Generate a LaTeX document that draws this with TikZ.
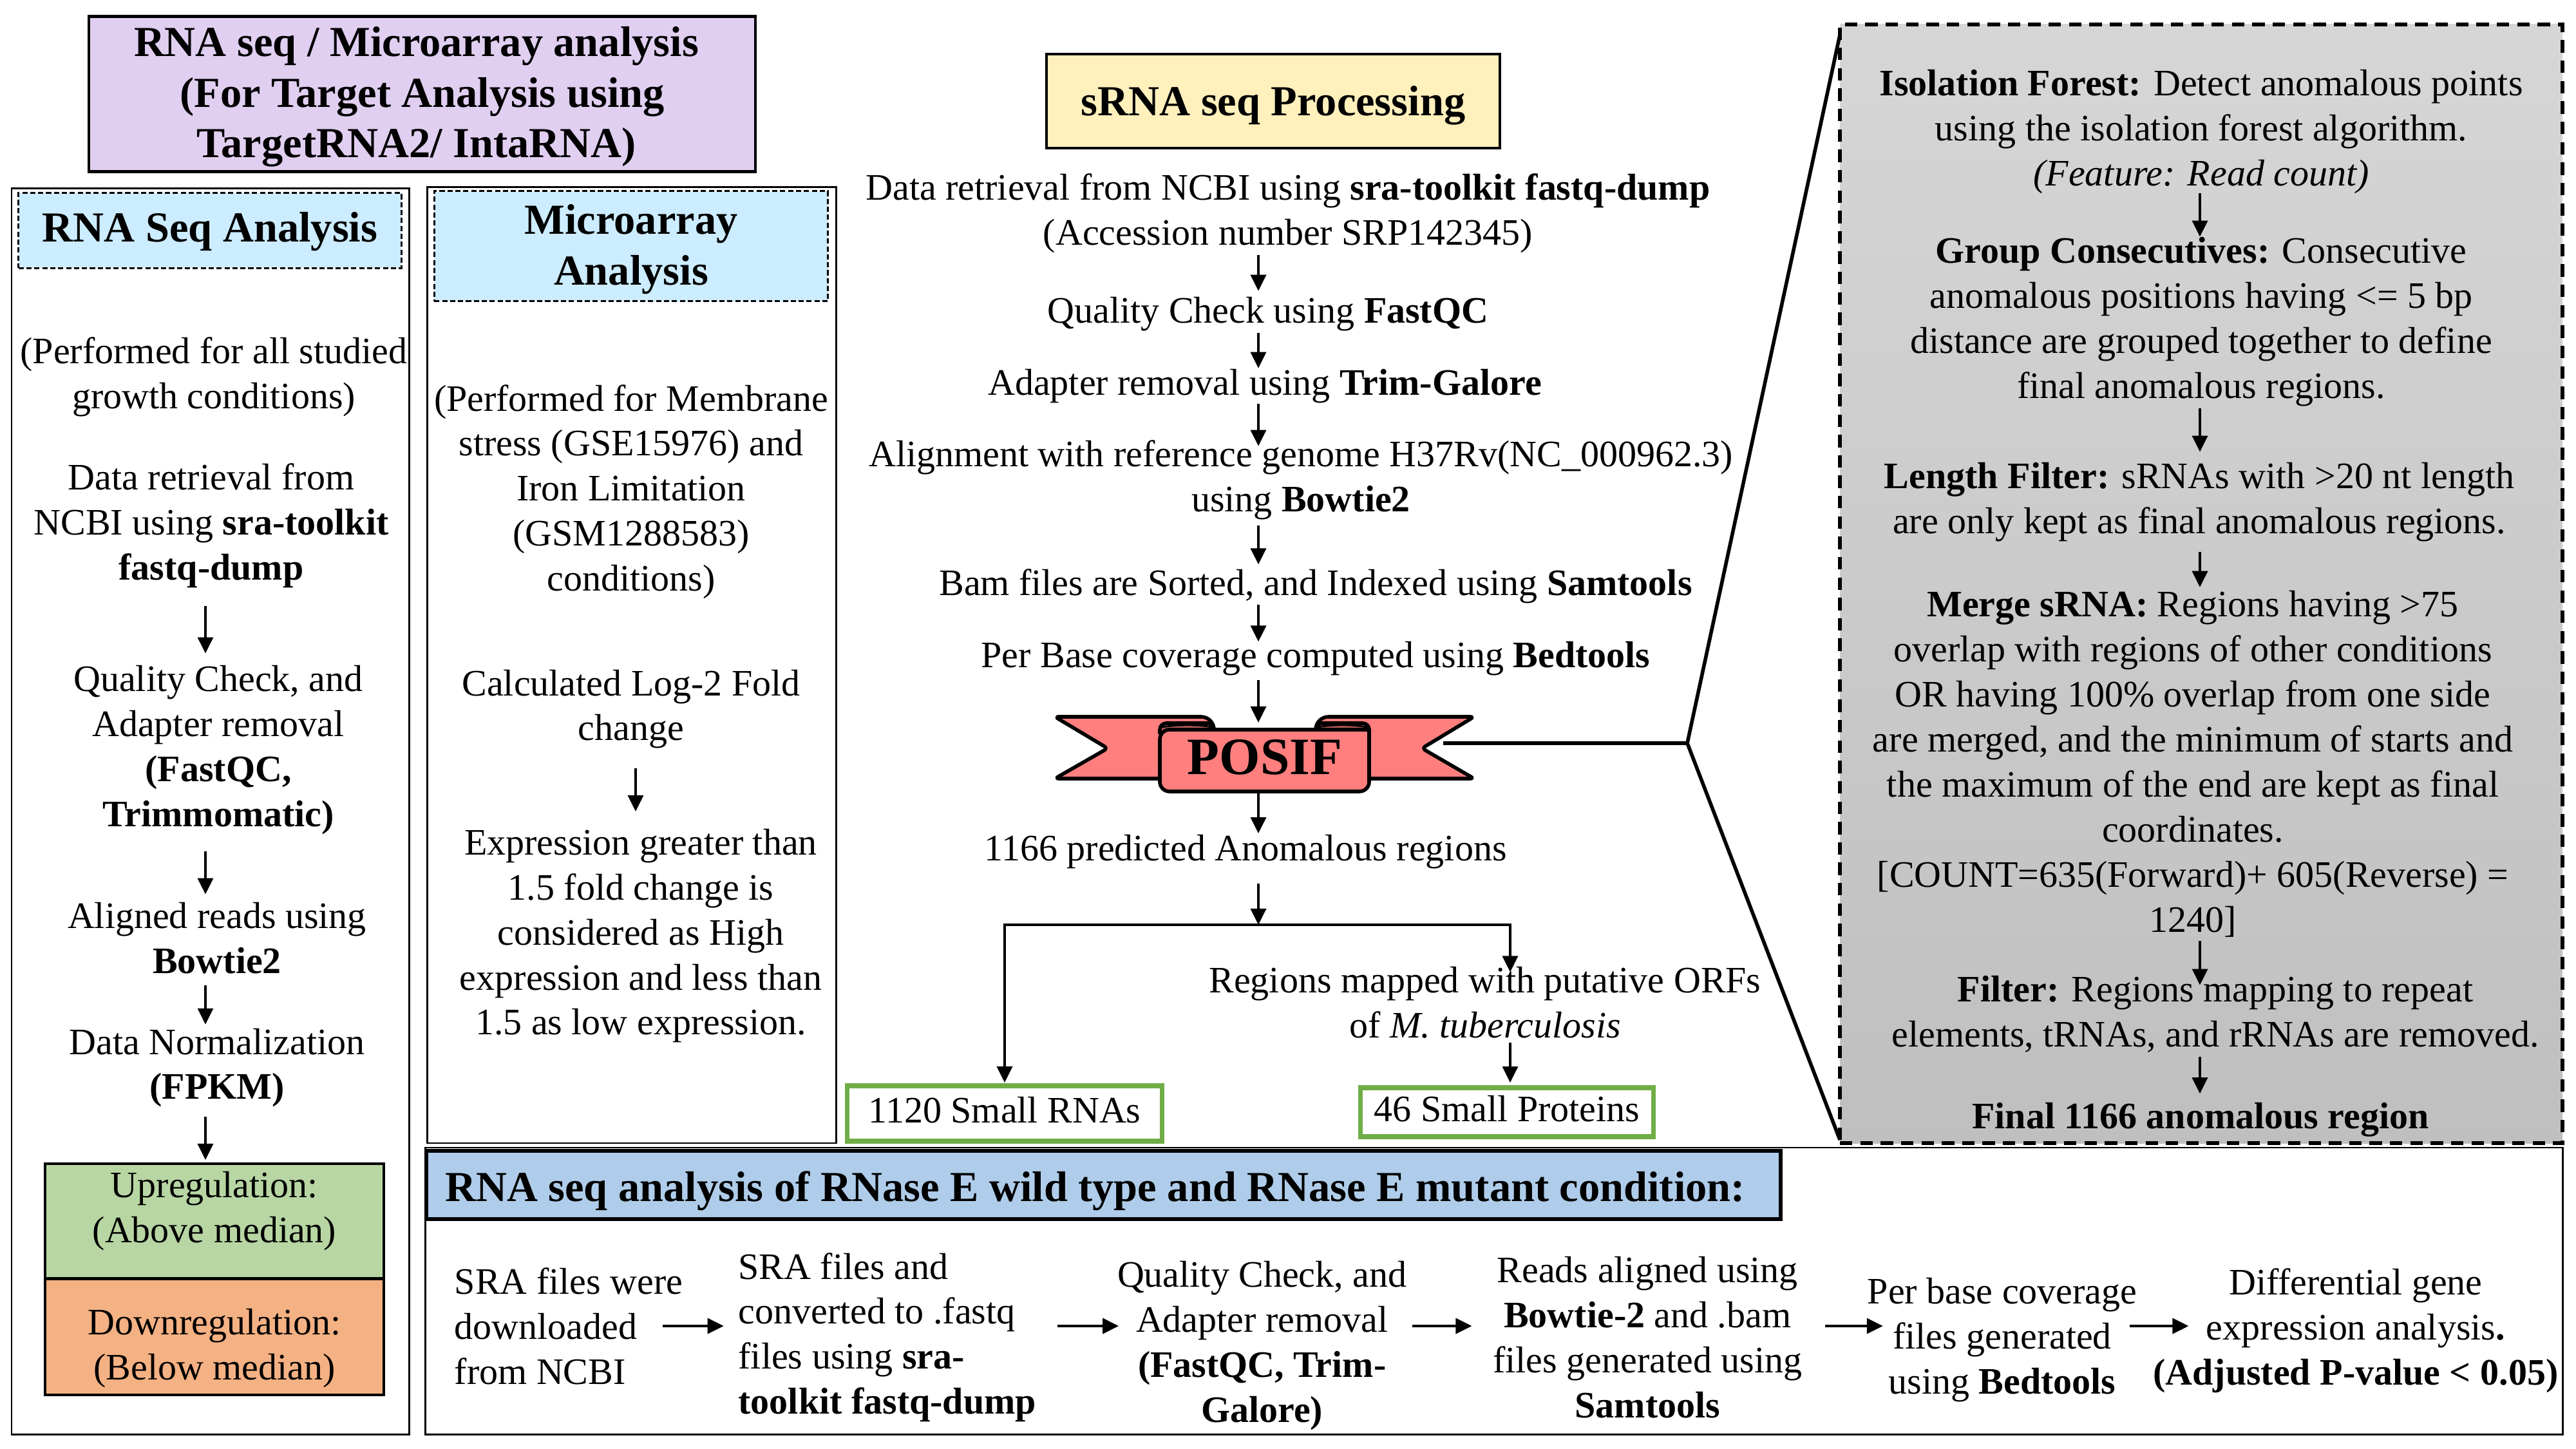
\documentclass[tikz,border=0pt]{standalone}
\usepackage{fontspec}
\setmainfont{Liberation Serif}
\usetikzlibrary{arrows.meta,positioning}
\definecolor{cTitle}{HTML}{E1CFF1}
\definecolor{cHead}{HTML}{CCECFF}
\definecolor{cYel}{HTML}{FFF0BC}
\definecolor{cUp}{HTML}{B8D6A3}
\definecolor{cDown}{HTML}{F4B183}
\definecolor{cBlue}{HTML}{AFCDEA}
\definecolor{cRib}{HTML}{FF7F7F}
\definecolor{cLeaf}{HTML}{70AD47}
\tikzset{
  txt/.style    = {align=center, inner sep=0pt, outer sep=0pt,
                   font=\fontsize{16.5}{19.9}\selectfont,
                   execute at begin node=\strut, execute at end node=\strut},
  hd/.style     = {draw, align=center, inner sep=0pt, outer sep=0pt,
                   font=\fontsize{18.9}{22.4}\selectfont\bfseries},
  maintitle/.style = {hd, fill=cTitle, line width=1.4pt},
  subhead/.style   = {hd, fill=cHead, line width=0.85pt, dash pattern=on 2.3pt off 1.2pt},
  outer/.style  = {draw, inner sep=0pt, outer sep=0pt, line width=0.85pt},
  res/.style    = {txt, draw, line width=1.2pt},
  leaf/.style   = {txt, draw=cLeaf, fill=white, line width=2.2pt},
  flow/.style   = {-{Stealth[length=2.5mm,width=2.4mm,inset=0pt]}, line width=1pt},
  rib/.style    = {draw, fill=cRib, line width=1.6pt, line join=round},
  link/.style   = {line width=1.6pt},
}
\begin{document}
\begin{tikzpicture}[x=1cm,y=-1cm]
  \useasboundingbox (0,0) rectangle (40,22.5);
  \coordinate (lspine) at (3.19,0);
  \coordinate (mspine) at (9.87,0);
  \coordinate (spine) at (19.54,0);
  \coordinate (pspine) at (34.16,0);
  \coordinate (row) at (0,20.59);

  \node[maintitle, minimum width=103.5mm, minimum height=24.1mm] (title) at (6.555,1.46)
    {\rule{0pt}{5.5mm}RNA seq / Microarray analysis\hspace*{1.8mm}\\ (For Target Analysis using\hspace*{1.8mm}\\ TargetRNA2/ IntaRNA)\hspace*{1.8mm}};
  \node[outer, minimum width=61.7mm, minimum height=193.4mm] (lbox) at (3.265,12.60) {};
  \node[subhead, minimum width=59.45mm, minimum height=11.65mm] (lhead) at (3.26,3.58) {\rule{0pt}{5mm}RNA Seq Analysis};
  \node[outer, minimum width=63.5mm, minimum height=148.4mm] (mbox) at (9.805,10.33) {};
  \node[subhead, minimum width=61.15mm, minimum height=17.1mm] (mhead) at (9.80,3.825) {\rule{0pt}{5.5mm}Microarray\\ Analysis};

  \node[txt] (lp) at (3.32,5.90) {(Performed for all studied\\ growth conditions)};
  \node[txt, below=6.4mm of lp, xshift=-0.4mm] (ld)
    {Data retrieval from\\ NCBI using \textbf{sra-toolkit}\\ \textbf{fastq-dump}};
  \node[txt, below=11.2mm of ld, xshift=1.1mm] (lq)
    {Quality Check, and\\ Adapter removal\\ \textbf{(FastQC,}\\ \textbf{Trimmomatic)}};
  \node[txt, below=9.7mm of lq, xshift=-0.2mm] (la) {Aligned reads using\\ \textbf{Bowtie2}};
  \node[txt, below=6.4mm of la] (ln) {Data Normalization\\ \textbf{(FPKM)}};
  \node[res, fill=cUp, minimum width=52.6mm, minimum height=17.85mm, below=7.9mm of ln, xshift=-0.4mm] (up)
    {Upregulation:\\ (Above median)\rule[-4.3mm]{0pt}{1pt}};
  \node[res, fill=cDown, minimum width=52.6mm, minimum height=18.05mm, below=0mm of up] (down)
    {\rule{0pt}{8.5mm}Downregulation:\\ (Below median)};

  \node[txt] (mp) at (9.80,7.68)
    {(Performed for Membrane\\ stress (GSE15976) and\\ Iron Limitation\\ (GSM1288583)\\ conditions)};
  \node[txt, below=10.1mm of mp] (mc) {Calculated Log-2 Fold\\ change};
  \node[txt, below=11.6mm of mc, xshift=1.5mm] (me)
    {Expression greater than\\ 1.5 fold change is\\ considered as High\\ expression and less than\\ 1.5 as low expression.};

  \node[maintitle, fill=cYel, minimum width=70.4mm, minimum height=14.6mm] (srna) at (19.77,1.57) {\rule{0pt}{6mm}sRNA seq Processing};
  \node[txt, below=4mm of srna, xshift=2.3mm] (s1)
    {Data retrieval from NCBI using \textbf{sra-toolkit fastq-dump}\\ (Accession number SRP142345)};
  \node[txt, below=5.1mm of s1, xshift=-3.1mm] (s2) {Quality Check using \textbf{FastQC}};
  \node[txt, below=4.2mm of s2, xshift=-0.5mm] (s3) {Adapter removal using \textbf{Trim-Galore}};
  \node[txt, below=4.9mm of s3, xshift=5.6mm] (s4)
    {Alignment with reference genome H37Rv(NC\_000962.3)\\ using \textbf{Bowtie2}};
  \node[txt, below=6mm of s4, xshift=2.3mm] (s5) {Bam files are Sorted, and Indexed using \textbf{Samtools}};
  \node[txt, below=4.2mm of s5] (s6) {Per Base coverage computed using \textbf{Bedtools}};

  \draw[rib, rounded corners=0.6mm] (16.38,11.13) [rounded corners=2mm] -- (18.85,11.13) [rounded corners=0.6mm] -- (18.85,12.09) -- (16.38,12.09) -- (17.20,11.62) -- cycle;
  \draw[rib, rounded corners=0.6mm] (22.89,11.13) [rounded corners=2mm] -- (20.43,11.13) [rounded corners=0.6mm] -- (20.43,12.09) -- (22.89,12.09) -- (22.08,11.62) -- cycle;
  \draw[rib, fill=cRib!75!black, rounded corners=1mm] (18.01,11.40) -- (18.01,11.23) -- (18.85,11.23) -- (18.85,11.40);
  \draw[rib, fill=cRib!75!black, rounded corners=1mm] (20.43,11.40) -- (20.43,11.23) -- (21.26,11.23) -- (21.26,11.40);
  \draw[rib, rounded corners=1.5mm] (18.01,12.29) -- (18.01,11.33) [sharp corners] -- (21.26,11.33) [rounded corners=1.5mm] -- (21.26,12.29) -- cycle;
  \draw[line width=0.8pt] (18.05,11.29) .. controls (18.3,11.25) and (18.6,11.25) .. (18.82,11.29);
  \draw[line width=0.8pt] (20.46,11.29) .. controls (20.7,11.25) and (21.0,11.25) .. (21.22,11.29);
  \node[inner sep=0pt, outer sep=0pt, minimum width=32.4mm, minimum height=10.8mm,
        font=\fontsize{23.2}{26}\selectfont\bfseries] (posif) at (19.64,11.76) {POSIF};

  \node[txt] (s7) at (19.34,13.23) {1166 predicted Anomalous regions};
  \coordinate (br) at (19.54,14.36);
  \node[txt] (reg) at (23.06,15.67) {Regions mapped with putative ORFs\\ of \textit{M. tuberculosis}};
  \node[leaf, minimum width=48.9mm, minimum height=8.6mm] (rna) at (15.60,17.29) {\rule{0pt}{5mm}1120 Small RNAs};
  \node[leaf, minimum width=45.5mm, minimum height=7.6mm] (prot) at (23.40,17.27) {\rule{0pt}{5mm}46 Small Proteins};
  \coordinate (pspot) at ([xshift=0.5mm]prot.north);

  \node[draw, inner sep=0pt, outer sep=0pt, line width=1.5pt, dash pattern=on 5.5pt off 3.5pt,
        top color=black!16, bottom color=black!25, minimum width=112.2mm, minimum height=173.7mm] (panel) at (34.18,9.065) {};
  \node[txt] (pf) at (34.18,2.09)
    {\textbf{Isolation Forest:} Detect anomalous points\\ using the isolation forest algorithm.\\ \textit{(Feature: Read count)}};
  \node[txt, below=5.9mm of pf] (pg)
    {\textbf{Group Consecutives:} Consecutive\\ anomalous positions having <= 5 bp\\ distance are grouped together to define\\ final anomalous regions.};
  \node[txt, below=7.9mm of pg, xshift=-0.3mm] (pl)
    {\textbf{Length Filter:} sRNAs with >20 nt length\\ are only kept as final anomalous regions.};
  \node[txt, below=6.8mm of pl, xshift=-1mm] (pm)
    {\textbf{Merge sRNA:} Regions having >75\\ overlap with regions of other conditions\\ OR having 100\% overlap from one side\\ are merged, and the minimum of starts and\\ the maximum of the end are kept as final\\ coordinates.\\ {[}COUNT=635(Forward)+ 605(Reverse) =\\ 1240{]}};
  \node[txt, below=4.7mm of pm, xshift=3.5mm] (pr)
    {\textbf{Filter:} Regions mapping to repeat\\ elements, tRNAs, and rRNAs are removed.};
  \node[txt, below=5.7mm of pr, xshift=-2.3mm] (pe) {\textbf{Final 1166 anomalous region}};

  \node[outer, minimum width=331.9mm, minimum height=44.5mm] (bbox) at (23.195,20.045) {};
  \node[hd, fill=cBlue, line width=1.8pt, minimum width=210.3mm, minimum height=10.6mm] (bhead) at (17.135,18.40)
    {\rule{0pt}{6.5mm}RNA seq analysis of RNase E wild type and RNase E mutant condition:\hspace*{2.6mm}};
  \node[txt, align=left] (b1) at (8.83,20.70) {SRA files were\\ downloaded\\ from NCBI};
  \node[txt, align=left, right=8.65mm of b1, yshift=-1.1mm] (b2)
    {SRA files and\\ converted to .fastq\\ files using \textbf{sra-}\\ \textbf{toolkit fastq-dump}};
  \node[txt, right=12.6mm of b2, yshift=-1.3mm] (b3)
    {Quality Check, and\\ Adapter removal\\ \textbf{(FastQC, Trim-}\\ \textbf{Galore)}};
  \node[txt, right=13.4mm of b3, yshift=0.7mm] (b4)
    {Reads aligned using\\ \textbf{Bowtie-2} and .bam\\ files generated using\\ \textbf{Samtools}};
  \node[txt, right=10.15mm of b4, yshift=0.2mm] (b5)
    {Per base coverage\\ files generated\\ using \textbf{Bedtools}};
  \node[txt, right=2.5mm of b5, yshift=1.4mm] (b6)
    {Differential gene\\ expression analysis\textbf{.}\\ \textbf{(Adjusted P-value < 0.05)}};

  \draw[flow, shorten <=1.9mm, shorten >=1.9mm] (ld.south -| lspine) -- (lq.north -| lspine);
  \draw[flow, shorten <=1.7mm, shorten >=1.3mm] (lq.south -| lspine) -- (la.north -| lspine);
  \draw[flow, shorten <=-0.3mm, shorten >=0.6mm] (la.south -| lspine) -- (ln.north -| lspine);
  \draw[flow, shorten <=0.6mm, shorten >=0.6mm] (ln.south -| lspine) -- (up.north -| lspine);
  \draw[flow, shorten <=2.2mm, shorten >=2.7mm] (mc.south -| mspine) -- (me.north -| mspine);

  \draw[flow, shorten <=-0.6mm, shorten >=0.1mm] (s1.south -| spine) -- (s2.north -| spine);
  \draw[flow, shorten <=-0.6mm, shorten >=-0.7mm] (s2.south -| spine) -- (s3.north -| spine);
  \draw[flow, shorten <=-0.8mm, shorten >=-0.9mm] (s3.south -| spine) -- (s4.north -| spine);
  \draw[flow, shorten <=0.1mm, shorten >=-0.1mm] (s4.south -| spine) -- (s5.north -| spine);
  \draw[flow, shorten <=-0.6mm, shorten >=-0.9mm] (s5.south -| spine) -- (s6.north -| spine);
  \draw[flow, shorten <=-0.1mm] (s6.south -| spine) -- (posif.north -| spine);
  \draw[flow, shorten >=-0.6mm] (posif.south -| spine) -- (s7.north -| spine);
  \draw[flow, shorten <=1.4mm] (s7.south -| spine) -- (br);
  \draw[flow, shorten >=0.5mm] (br) -| (rna.north);
  \draw[flow, shorten >=-0.8mm] (br) -| (reg.north -| pspot);
  \draw[flow, shorten <=-1.4mm, shorten >=0.8mm] (reg.south -| pspot) -- (pspot);

  \coordinate (ribend) at (22.41,11.54);
  \coordinate (bend) at (26.20,11.54);
  \draw[link, line join=round] (ribend) -- (bend) -- ([yshift=-1.6mm]panel.north west);
  \draw[link] (bend) -- ([yshift=0.5mm]panel.south west);

  \draw[flow, shorten <=-1mm, shorten >=0.1mm] (pf.south -| pspine) -- (pg.north -| pspine);
  \draw[flow, shorten <=-0.6mm, shorten >=1.7mm] (pg.south -| pspine) -- (pl.north -| pspine);
  \draw[flow, shorten <=0.7mm, shorten >=0.6mm] (pl.south -| pspine) -- (pm.north -| pspine);
  \draw[flow, shorten <=-0.8mm, shorten >=-1.4mm] (pm.south -| pspine) -- (pr.north -| pspine);
  \draw[flow, shorten <=-0.6mm, shorten >=0.55mm] (pr.south -| pspine) -- (pe.north -| pspine);

  \draw[flow, shorten <=-3.1mm, shorten >=2.3mm] (b1.east |- row) -- (b2.west |- row);
  \draw[flow, shorten <=3.3mm, shorten >=-0.2mm] (b2.east |- row) -- (b3.west |- row);
  \draw[flow, shorten <=0.9mm, shorten >=3.3mm] (b3.east |- row) -- (b4.west |- row);
  \draw[flow, shorten <=3.6mm, shorten >=-2.4mm] (b4.east |- row) -- (b5.west |- row);
  \draw[flow, shorten <=-1.1mm, shorten >=-5.5mm] (b5.east |- row) -- (b6.west |- row);
\end{tikzpicture}
\end{document}
